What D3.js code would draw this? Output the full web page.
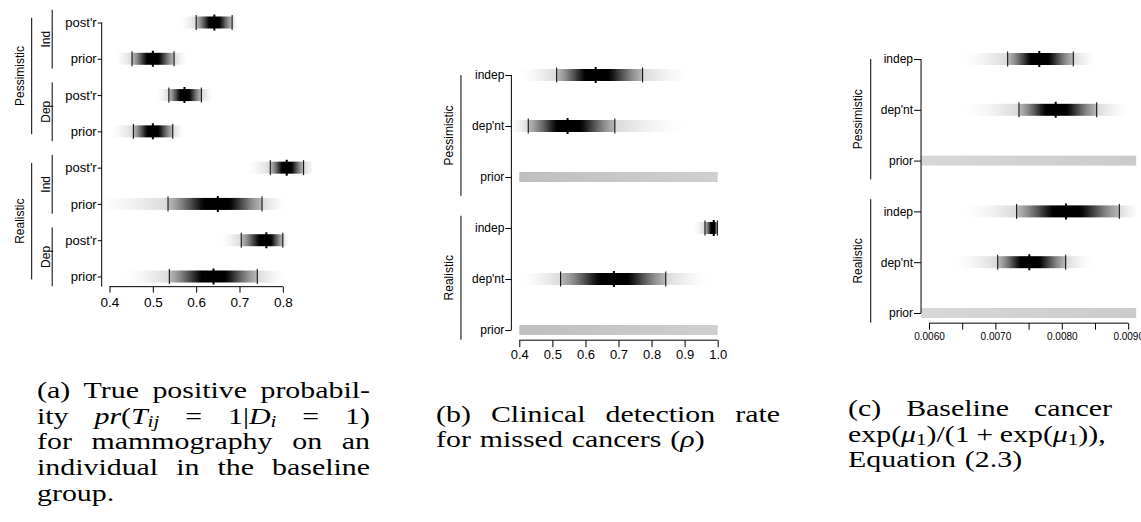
<!DOCTYPE html>
<html>
<head>
<meta charset="utf-8">
<script src="https://cdn.jsdelivr.net/npm/d3@7"></script>
<style>
  body { margin: 0; background: #fff; }
  svg { display: block; }
</style>
</head>
<body>
<svg id="fig" width="1141" height="522"></svg>
<script>
// ---------- panel (a): true positive probability ----------
const aLabels = ["post'r", "prior", "post'r", "prior", "post'r", "prior", "post'r", "prior"];
const aLow    = [0.600, 0.452, 0.537, 0.455, 0.771, 0.535, 0.704, 0.538];
const aMed    = [0.642, 0.500, 0.573, 0.500, 0.809, 0.650, 0.762, 0.640];
const aHigh   = [0.683, 0.549, 0.612, 0.546, 0.848, 0.752, 0.800, 0.741];
const aTailLo = [0.562, 0.412, 0.508, 0.400, 0.715, 0.360, 0.654, 0.431];
const aTailHi = [0.696, 0.581, 0.642, 0.573, 0.880, 0.811, 0.815, 0.808];
const aModels = ["Ind", "Dep", "Ind", "Dep"];
const aScenarios = ["Pessimistic", "Realistic"];
const aTicks = [0.4, 0.5, 0.6, 0.7, 0.8];
const aTickLabels = ["0.4", "0.5", "0.6", "0.7", "0.8"];

// ---------- panel (b): clinical detection rate ----------
const bLabels = ["indep", "dep'nt", "prior", "indep", "dep'nt", "prior"];
const bLow    = [0.513, 0.427, null, 0.9615, 0.525, null];
const bMed    = [0.631, 0.546, null, 0.988, 0.686, null];
const bHigh   = [0.773, 0.689, null, 0.999, 0.843, null];
const bTailLo = [0.400, 0.370, 0.400, 0.925, 0.400, 0.400];
const bTailHi = [0.916, 0.906, 1.000, 1.000, 0.977, 1.000];
const bScenarios = ["Pessimistic", "Realistic"];
const bTicks = [0.4, 0.5, 0.6, 0.7, 0.8, 0.9, 1.0];
const bTickLabels = ["0.4", "0.5", "0.6", "0.7", "0.8", "0.9", "1.0"];

// ---------- panel (c): baseline cancer rate ----------
const cLabels = ["indep", "dep'nt", "prior", "indep", "dep'nt", "prior"];
const cLow    = [0.007185, 0.007355, null, 0.007320, 0.007035, null];
const cMed    = [0.007661, 0.007908, null, 0.008063, 0.007511, null];
const cHigh   = [0.008173, 0.008526, null, 0.008866, 0.008059, null];
const cTailLo = [0.006467, 0.006512, 0.0055, 0.006512, 0.006361, 0.0055];
const cTailHi = [0.008526, 0.009027, 0.0095, 0.009200, 0.008470, 0.0095];
const cScenarios = ["Pessimistic", "Realistic"];
const cTicks = [0.0060, 0.0065, 0.0070, 0.0075, 0.0080, 0.0085, 0.0090];
const cTickLabels = ["0.0060", "", "0.0070", "", "0.0080", "", "0.0090"];

const W = 1141, H = 522;
const sans = '"Liberation Sans", Arial, Helvetica, sans-serif';
const serif = '"Liberation Serif", "Times New Roman", serif';

const svg = d3.select("#fig");
const defs = svg.append("defs");
const shade = d => { const v = Math.round(255 * (1 - d)); return d3.rgb(v, v, v).toString(); };

// darkness along a density strip: dark inside the 95% interval, faint tails outside
function darkness(v, r) {
  if (v < r.low || v > r.high) {
    const edge = v < r.low ? r.low : r.high, end = v < r.low ? r.tailLo : r.tailHi;
    const t = Math.max(0, Math.min(1, (v - end) / (edge - end)));
    return 0.15 * Math.pow(t, 1.6);
  }
  const sd = (v < r.med ? r.med - r.low : r.high - r.med) / 1.96;
  const z = (v - r.med) / sd, db = Math.exp(-0.5 * 1.96 * 1.96);
  const f = (Math.exp(-0.5 * z * z) - db) / (1 - db);
  return Math.min(1, 0.28 + 0.85 * f);
}

function stripStops(r) {
  const pts = [];
  const seg = (a, b, n) => d3.range(n + 1).map(k => a + (b - a) * k / n);
  seg(r.tailLo, r.low, 12).forEach(v => pts.push([v, darkness(Math.min(v, r.low - 1e-12), r)]));
  seg(r.low, r.med, 16).forEach(v => pts.push([v, darkness(Math.max(v, r.low), r)]));
  seg(r.med, r.high, 16).forEach(v => pts.push([v, darkness(Math.min(v, r.high), r)]));
  seg(r.high, r.tailHi, 12).forEach(v => pts.push([v, darkness(Math.max(v, r.high + 1e-12), r)]));
  return pts;
}

function drawPanel(p) {
  const n = p.labels.length;
  const x = d3.scaleLinear().domain(p.xlim).range(p.px);
  const span = p.xlim[1] - p.xlim[0];
  const usr = [p.xlim[0] - 0.04 * span, p.xlim[1] + 0.04 * span];
  const y = d3.scalePoint().domain(d3.range(n)).range(p.rows);
  const step = y.step();
  const left = x(usr[0]);
  const axisY = y(n - 1) + 0.04 * (p.rows[1] - p.rows[0]);

  const rows = d3.range(n).map(i => ({
    i, label: p.labels[i], low: p.low[i], med: p.med[i], high: p.high[i],
    tailLo: p.tailLo[i], tailHi: p.tailHi[i]
  }));

  const g = svg.append("g");
  const clipId = "clip-" + p.id;
  defs.append("clipPath").attr("id", clipId)
    .append("rect").attr("x", left).attr("y", 0).attr("width", x(usr[1]) - left).attr("height", H);
  const plot = g.append("g").attr("clip-path", `url(#${clipId})`);

  // gradients
  rows.forEach(r => {
    const lg = defs.append("linearGradient").attr("id", `grad-${p.id}-${r.i}`)
      .attr("x1", 0).attr("x2", 1).attr("y1", 0).attr("y2", 0);
    const x0 = x(r.tailLo), x1 = x(r.tailHi);
    const pts = r.low == null
      ? [[r.tailLo, p.priorShade[0]], [r.tailHi, p.priorShade[1]]]
      : stripStops(r);
    lg.selectAll("stop").data(pts).join("stop")
      .attr("offset", d => (x(d[0]) - x0) / (x1 - x0))
      .attr("stop-color", d => shade(d[1]));
  });

  plot.selectAll("rect.strip").data(rows).join("rect")
    .attr("class", "strip")
    .attr("x", r => x(r.tailLo))
    .attr("width", r => x(r.tailHi) - x(r.tailLo))
    .attr("y", r => y(r.i) - (r.low == null ? p.priorH : p.stripH) / 2)
    .attr("height", r => r.low == null ? p.priorH : p.stripH)
    .attr("fill", r => `url(#grad-${p.id}-${r.i})`);

  const dens = rows.filter(r => r.low != null);
  const marks = dens.flatMap(r => [
    { v: r.low, y: y(r.i), w: 1, h: p.tickH },
    { v: r.med, y: y(r.i), w: 2, h: p.tickH + 1 },
    { v: r.high, y: y(r.i), w: 1, h: p.tickH }
  ]);
  plot.selectAll("line.ci").data(marks).join("line")
    .attr("class", "ci")
    .attr("x1", d => x(d.v)).attr("x2", d => x(d.v))
    .attr("y1", d => d.y - d.h / 2).attr("y2", d => d.y + d.h / 2)
    .attr("stroke", "#000").attr("stroke-width", d => d.w);

  // bottom axis
  const ax = g.append("g").attr("transform", `translate(0,${axisY})`)
    .call(d3.axisBottom(x).tickValues(p.ticks).tickFormat((d, i) => p.tickLabels[i])
      .tickSize(p.xTickLen).tickPadding(p.xTickPad));
  ax.select(".domain").remove();
  ax.append("line")
    .attr("x1", x(p.ticks[0])).attr("x2", x(p.ticks[p.ticks.length - 1]))
    .attr("stroke", "#000");
  ax.attr("font-family", sans).attr("font-size", p.xFs);
  ax.selectAll("text").attr("fill", "#000");

  // left axis with row labels
  const ay = g.append("g").attr("transform", `translate(${left},0)`)
    .call(d3.axisLeft(y).tickSize(p.yTickLen).tickSizeOuter(0).tickPadding(1)
      .tickFormat(i => p.labels[i]));
  ay.select(".domain").remove();
  ay.append("line")
    .attr("y1", y(0)).attr("y2", p.yAxisToBottom ? axisY : y(n - 1))
    .attr("stroke", "#000");
  ay.attr("font-family", sans).attr("font-size", p.yFs);
  ay.selectAll("text").attr("fill", "#000");

  // grouping brackets
  const br = g.append("g").attr("font-family", sans).attr("font-size", 12);
  p.groups.forEach(gr => {
    const y0 = y(gr.from) + gr.pad[0] * step, y1 = y(gr.to) + gr.pad[1] * step;
    br.append("line")
      .attr("x1", left + gr.dx).attr("x2", left + gr.dx)
      .attr("y1", y0).attr("y2", y1).attr("stroke", "#000");
    br.append("text")
      .attr("transform", `translate(${left + gr.tx},${(y0 + y1) / 2}) rotate(-90)`)
      .attr("text-anchor", "middle").attr("fill", "#000")
      .text(gr.label);
  });
}

// bracket helper: groups of equal size
function groupsOf(names, size, dx, tx, pads) {
  return names.map((label, k) => ({
    label, from: k * size, to: k * size + size - 1, dx, tx,
    pad: pads[k % pads.length]
  }));
}

drawPanel({
  id: "a", labels: aLabels, low: aLow, med: aMed, high: aHigh, tailLo: aTailLo, tailHi: aTailHi,
  xlim: [0.4, 0.85], px: [109.5, 304.5], rows: [22.5, 276.5], yAxisToBottom: true,
  ticks: aTicks, tickLabels: aTickLabels, xTickLen: 6, xTickPad: 5, xFs: 13.5,
  yTickLen: 4, yFs: 13, stripH: 12, priorH: 10, tickH: 15, priorShade: [0.2, 0.2],
  groups: groupsOf(aScenarios, 4, -70, -77.5, [[-0.13, 0.08]])
    .concat(groupsOf(aModels, 2, -49.5, -52, [[-0.35, 0.27]]))
});

drawPanel({
  id: "b", labels: bLabels, low: bLow, med: bMed, high: bHigh, tailLo: bTailLo, tailHi: bTailHi,
  xlim: [0.4, 1.0], px: [519.3, 717.7], rows: [75, 330],
  ticks: bTicks, tickLabels: bTickLabels, xTickLen: 7, xTickPad: 3, xFs: 13,
  yTickLen: 6, yFs: 12, stripH: 12, priorH: 10, tickH: 15, priorShade: [0.25, 0.19],
  groups: groupsOf(bScenarios, 3, -50.4, -58.5, [[0.0, 0.37], [-0.24, 0.19]])
});

drawPanel({
  id: "c", labels: cLabels, low: cLow, med: cMed, high: cHigh, tailLo: cTailLo, tailHi: cTailHi,
  xlim: [0.006, 0.009], px: [929, 1128.2], rows: [59, 313],
  ticks: cTicks, tickLabels: cTickLabels, xTickLen: 6.5, xTickPad: 3.5, xFs: 10,
  yTickLen: 7, yFs: 12, stripH: 12, priorH: 10, tickH: 15, priorShade: [0.15, 0.21],
  groups: groupsOf(cScenarios, 3, -50.3, -59.3, [[0.0, 0.37], [-0.24, 0.19]])
});

// ---------- captions (justified like the LaTeX subcaptions) ----------
const capA = [
  { j: true, w: ["(a)", "True", "positive", "probabil-"] },
  { j: true, w: ["ity", [["pr", "i"], ["(", ""], ["T", "i"], ["ij", "si"]], "=",
                 [["1|", ""], ["D", "i"], ["i", "si"]], "=", "1)"] },
  { j: true, w: ["for", "mammography", "on", "an"] },
  { j: true, w: ["individual", "in", "the", "baseline"] },
  { j: false, w: ["group."] }
];
const capB = [
  { j: true, w: ["(b)", "Clinical", "detection", "rate"] },
  { j: false, w: ["for", "missed", "cancers", [["(", ""], ["ρ", "i"], [")", ""]]] }
];
const capC = [
  { j: true, w: ["(c)", "Baseline", "cancer"] },
  { j: false, gap: 0.22, w: [[["exp(", ""], ["μ", "i"], ["1", "s"], [")/(1", ""]], "+",
                 [["exp(", ""], ["μ", "i"], ["1", "s"], [")),", ""]]] },
  { j: false, w: ["Equation", "(2.3)"] }
];

// the LaTeX face is wider than Times, so lines are stretched horizontally
function drawCaption(lines, x0, x1, yTop, lh, fs, sx) {
  const cg = svg.append("g").attr("font-family", serif).attr("font-size", fs).attr("fill", "#000");
  const span = (x1 - x0) / sx;
  lines.forEach((ln, li) => {
    const lg = cg.append("g").attr("transform", `translate(${x0},${yTop + li * lh}) scale(${sx},1)`);
    const words = ln.w.map(w => {
      const t = lg.append("text").attr("y", 0);
      const segs = typeof w === "string" ? [[w, ""]] : w;
      let shift = 0;
      segs.forEach(([s, k]) => {
        const sub = k === "s" || k === "si";
        const target = sub ? fs * 0.13 : 0;
        const ts = t.append("tspan").attr("dy", target - shift).text(s);
        shift = target;
        if (k === "i" || k === "si") ts.attr("font-style", "italic");
        if (sub) ts.attr("font-size", fs * 0.7);
      });
      return t;
    });
    const widths = words.map(t => t.node().getComputedTextLength());
    const gap = ln.j && words.length > 1
      ? (span - d3.sum(widths)) / (words.length - 1)
      : fs * (ln.gap || 0.3);
    let xx = 0;
    words.forEach((t, k) => { t.attr("x", xx); xx += widths[k] + gap; });
  });
}

drawCaption(capA, 37, 370, 398, 25.7, 23, 1.3);
drawCaption(capB, 436, 780, 421.5, 25.7, 23, 1.3);
drawCaption(capC, 848, 1112, 416, 25.7, 23, 1.3);
</script>
</body>
</html>
